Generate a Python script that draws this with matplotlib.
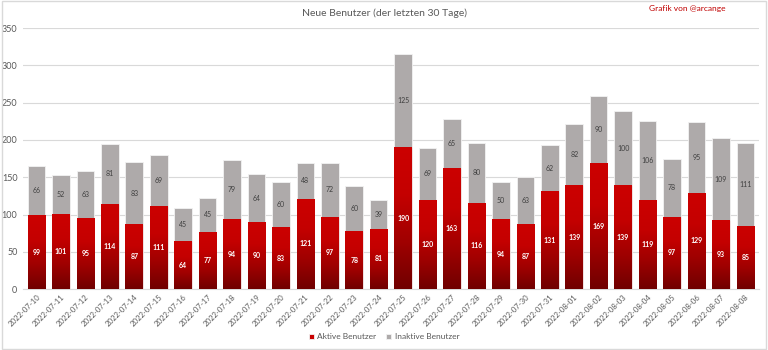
import matplotlib
matplotlib.use("Agg")
import matplotlib.pyplot as plt
import numpy as np
from matplotlib.colors import LinearSegmentedColormap
from matplotlib.patches import Rectangle

plt.rcParams['font.family'] = ['Lato', 'DejaVu Sans']

dates = ["2022-07-10", "2022-07-11", "2022-07-12", "2022-07-13", "2022-07-14",
         "2022-07-15", "2022-07-16", "2022-07-17", "2022-07-18", "2022-07-19",
         "2022-07-20", "2022-07-21", "2022-07-22", "2022-07-23", "2022-07-24",
         "2022-07-25", "2022-07-26", "2022-07-27", "2022-07-28", "2022-07-29",
         "2022-07-30", "2022-07-31", "2022-08-01", "2022-08-02", "2022-08-03",
         "2022-08-04", "2022-08-05", "2022-08-06", "2022-08-07", "2022-08-08"]
aktive = [99, 101, 95, 114, 87, 111, 64, 77, 94, 90, 83, 121, 97, 78, 81,
          190, 120, 163, 116, 94, 87, 131, 139, 169, 139, 119, 97, 129, 93, 85]
inaktive = [66, 52, 63, 81, 83, 69, 45, 45, 79, 64, 60, 48, 72, 60, 39,
            125, 69, 65, 80, 50, 63, 62, 82, 90, 100, 106, 78, 95, 109, 111]

RED = "#c80000"
GREY = "#aeaaaa"
TXT = "#595959"

fig = plt.figure(figsize=(7.68, 3.5), dpi=100)
ax = fig.add_axes([0.030, 0.174, 0.958, 0.746])

x = np.arange(len(dates))
w = 0.72
bars_a = ax.bar(x, aktive, w, color=RED, edgecolor="#f2f2f2", linewidth=0.6,
                label="Aktive Benutzer", zorder=3)
bars_i = ax.bar(x, inaktive, w, bottom=aktive, color=GREY, edgecolor="#f2f2f2",
                linewidth=0.6, label="Inaktive Benutzer", zorder=3)

# vertical gradient inside the red bars
cmap = LinearSegmentedColormap.from_list("rg", ["#700000", "#a00000", "#c40000", "#cc0000"])
grad = np.linspace(0, 1, 256).reshape(-1, 1)
for b in bars_a:
    bx, by = b.get_x(), b.get_y()
    bw, bh = b.get_width(), b.get_height()
    im = ax.imshow(grad, cmap=cmap, origin="lower", aspect="auto",
                   extent=(bx, bx + bw, by, by + bh), zorder=3.5)
    im.set_clip_path(b)

for b, v in zip(bars_a, aktive):
    ax.text(b.get_x() + b.get_width() / 2, v / 2, str(v), ha="center", va="center",
            fontsize=5, color="white", fontweight="bold", zorder=5)
for b, a, v in zip(bars_i, aktive, inaktive):
    ax.text(b.get_x() + b.get_width() / 2, a + v / 2, str(v), ha="center", va="center",
            fontsize=5, color="#404040", zorder=5)

ax.set_xlim(-0.55, len(dates) - 0.45)
ax.set_ylim(0, 350)
ax.set_yticks(np.arange(0, 351, 50))
ax.grid(axis="y", color="#d9d9d9", linewidth=0.8, zorder=0)
ax.set_xticks(x)
ax.set_xticklabels(dates, rotation=45, ha="right", rotation_mode="anchor")
ax.tick_params(axis="both", length=0, labelsize=6.5, colors=TXT, pad=4)
ax.tick_params(axis="x", labelsize=5.6, pad=3)
for s in ["top", "right", "left"]:
    ax.spines[s].set_visible(False)
ax.spines["bottom"].set_color("#d9d9d9")

fig.text(0.5, 0.962, "Neue Benutzer (der letzten 30 Tage)", ha="center", va="center",
         fontsize=7.5, color=TXT)
fig.text(0.845, 0.975, "Grafik von @arcange", ha="left", va="center",
         fontsize=6, color="#c00000")

fig.legend(handles=[bars_a, bars_i], loc="center", bbox_to_anchor=(0.5, 0.038),
           ncol=2, frameon=False, fontsize=6, labelcolor=TXT, handlelength=0.6,
           handleheight=0.6, columnspacing=1.2, handletextpad=0.4)

fig.patches.append(Rectangle((0.002, 0.003), 0.996, 0.994, transform=fig.transFigure,
                             fill=False, edgecolor="#d9d9d9", linewidth=1))

fig.savefig("out.png", dpi=100)
